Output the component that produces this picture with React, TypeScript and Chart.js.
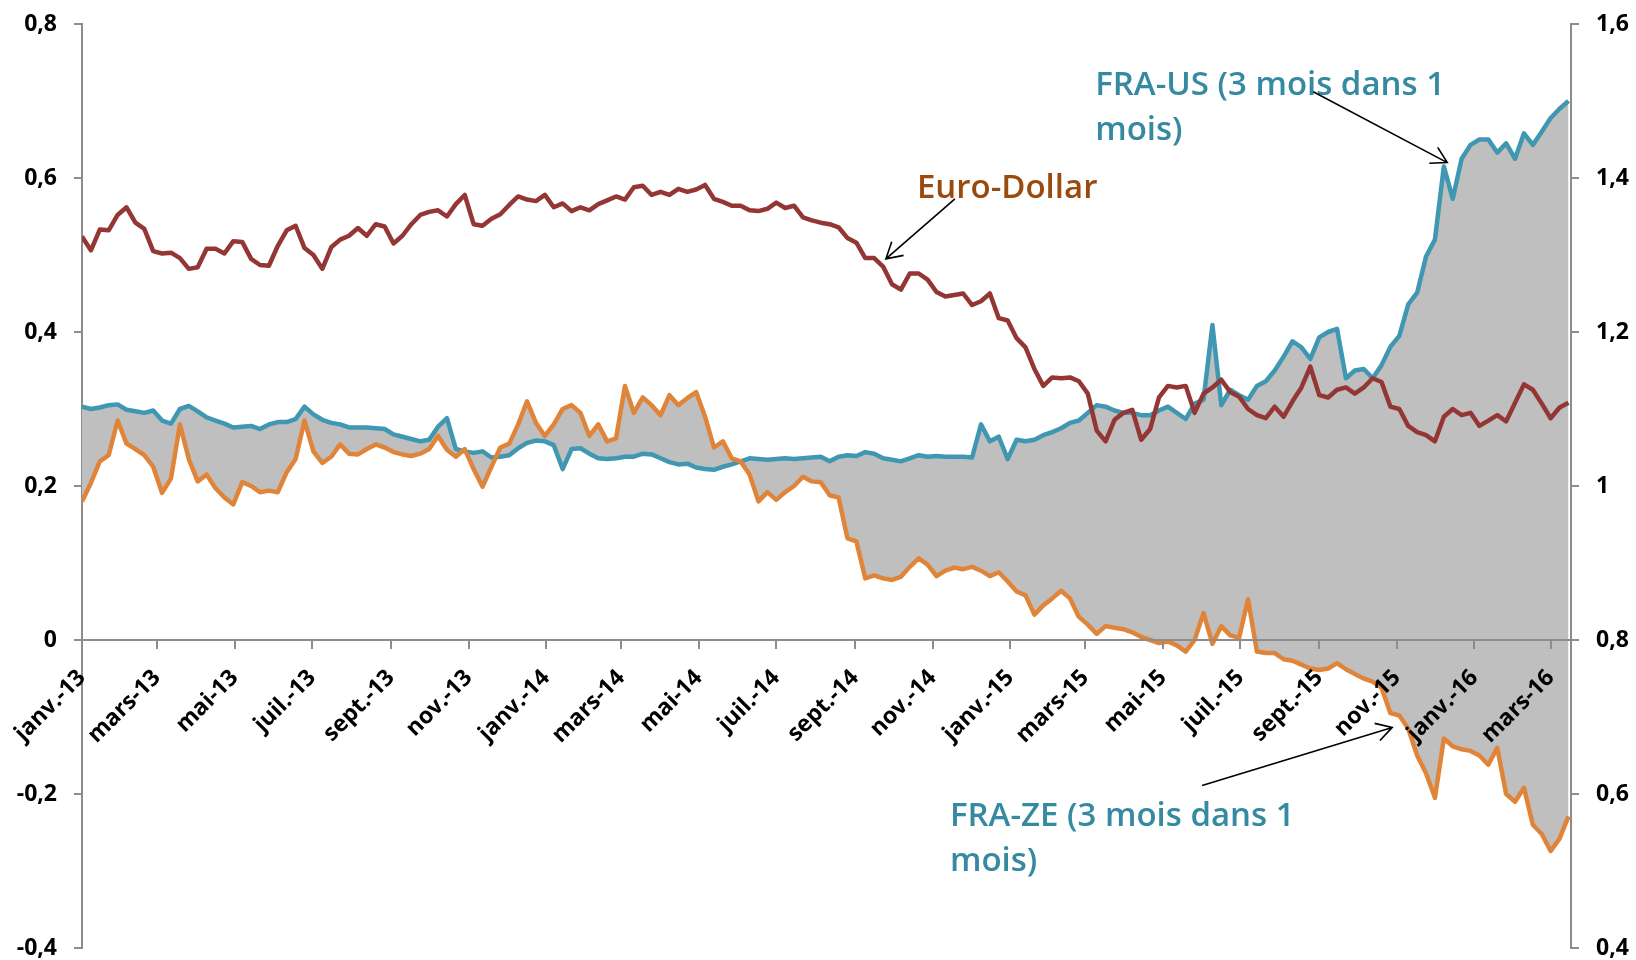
import React, { useEffect, useRef } from 'react';
import { Chart, registerables } from 'chart.js';

Chart.register(...registerables);

// Weekly observations starting 1 Jan 2013 (x = week index * 7 days)
const WEEK_DAYS = 7;

const FRA_US = [
  0.303, 0.300, 0.302, 0.305, 0.306, 0.299, 0.297, 0.295, 0.298, 0.285,
  0.281, 0.300, 0.304, 0.297, 0.289, 0.285, 0.281, 0.276, 0.277, 0.278,
  0.274, 0.280, 0.283, 0.283, 0.287, 0.303, 0.293, 0.286, 0.282, 0.280,
  0.276, 0.276, 0.276, 0.275, 0.274, 0.267, 0.264, 0.261, 0.258, 0.260,
  0.277, 0.288, 0.248, 0.245, 0.243, 0.245, 0.237, 0.238, 0.240, 0.249,
  0.256, 0.259, 0.258, 0.253, 0.222, 0.248, 0.249, 0.242, 0.236, 0.235,
  0.236, 0.238, 0.238, 0.242, 0.241, 0.236, 0.231, 0.228, 0.229, 0.224,
  0.222, 0.221, 0.225, 0.228, 0.232, 0.236, 0.235, 0.234, 0.235, 0.236,
  0.235, 0.236, 0.237, 0.238, 0.232, 0.238, 0.240, 0.239, 0.244, 0.242,
  0.236, 0.234, 0.232, 0.236, 0.240, 0.238, 0.239, 0.238, 0.238, 0.238,
  0.237, 0.280, 0.258, 0.264, 0.235, 0.260, 0.258, 0.260, 0.266, 0.270,
  0.275, 0.282, 0.285, 0.295, 0.305, 0.303, 0.298, 0.295, 0.295, 0.292,
  0.292, 0.298, 0.303, 0.295, 0.287, 0.307, 0.312, 0.409, 0.305, 0.325,
  0.318, 0.312, 0.330, 0.336, 0.350, 0.368, 0.388, 0.380, 0.365, 0.393,
  0.400, 0.404, 0.340, 0.350, 0.352, 0.340, 0.357, 0.381, 0.395, 0.436,
  0.451, 0.498, 0.520, 0.615, 0.573, 0.625, 0.643, 0.650, 0.650, 0.633,
  0.645, 0.625, 0.658, 0.643, 0.660, 0.678, 0.690, 0.700,
];

const FRA_ZE = [
  0.180, 0.204, 0.232, 0.240, 0.285, 0.255, 0.248, 0.240, 0.225, 0.191,
  0.210, 0.280, 0.235, 0.206, 0.215, 0.197, 0.185, 0.176, 0.205, 0.200,
  0.192, 0.194, 0.192, 0.218, 0.235, 0.285, 0.245, 0.230, 0.238, 0.254,
  0.242, 0.241, 0.248, 0.254, 0.250, 0.244, 0.241, 0.239, 0.242, 0.248,
  0.265, 0.247, 0.238, 0.248, 0.222, 0.199, 0.225, 0.250, 0.255, 0.280,
  0.310, 0.282, 0.265, 0.280, 0.300, 0.305, 0.295, 0.265, 0.280, 0.258,
  0.262, 0.330, 0.295, 0.315, 0.305, 0.292, 0.318, 0.305, 0.314, 0.322,
  0.290, 0.250, 0.258, 0.236, 0.232, 0.215, 0.180, 0.192, 0.182, 0.192,
  0.200, 0.212, 0.206, 0.205, 0.188, 0.185, 0.132, 0.128, 0.080, 0.084,
  0.080, 0.078, 0.082, 0.095, 0.106, 0.098, 0.083, 0.090, 0.094, 0.092,
  0.095, 0.090, 0.083, 0.088, 0.076, 0.063, 0.058, 0.033, 0.045, 0.054,
  0.064, 0.054, 0.030, 0.020, 0.008, 0.018, 0.016, 0.014, 0.010, 0.004,
  0.000, -0.004, -0.002, -0.007, -0.015, 0.000, 0.035, -0.005, 0.018, 0.006,
  0.003, 0.053, -0.015, -0.017, -0.017, -0.025, -0.027, -0.032, -0.037, -0.039,
  -0.037, -0.030, -0.038, -0.044, -0.050, -0.054, -0.062, -0.095, -0.098, -0.115,
  -0.150, -0.173, -0.205, -0.128, -0.138, -0.142, -0.144, -0.150, -0.162, -0.140,
  -0.200, -0.210, -0.192, -0.240, -0.252, -0.274, -0.258, -0.229,
];

const EURO_DOLLAR = [
  1.324, 1.306, 1.333, 1.332, 1.352, 1.362, 1.342, 1.334, 1.305, 1.302,
  1.303, 1.296, 1.282, 1.284, 1.308, 1.308, 1.302, 1.318, 1.317, 1.295,
  1.287, 1.286, 1.312, 1.332, 1.338, 1.309, 1.300, 1.282, 1.310, 1.320,
  1.325, 1.335, 1.325, 1.340, 1.337, 1.315, 1.325, 1.340, 1.352, 1.356,
  1.358, 1.350, 1.366, 1.378, 1.340, 1.338, 1.347, 1.353, 1.365, 1.376,
  1.372, 1.370, 1.378, 1.362, 1.367, 1.357, 1.362, 1.358, 1.366, 1.371,
  1.376, 1.372, 1.388, 1.390, 1.378, 1.382, 1.378, 1.386, 1.382, 1.385,
  1.391, 1.373, 1.369, 1.364, 1.364, 1.358, 1.357, 1.360, 1.368, 1.361,
  1.364, 1.349, 1.345, 1.342, 1.340, 1.336, 1.322, 1.316, 1.296, 1.296,
  1.285, 1.262, 1.255, 1.276, 1.276, 1.268, 1.252, 1.246, 1.248, 1.250,
  1.235, 1.240, 1.250, 1.218, 1.215, 1.192, 1.180, 1.152, 1.130, 1.141,
  1.140, 1.141, 1.136, 1.120, 1.072, 1.058, 1.086, 1.095, 1.099, 1.060,
  1.074, 1.115, 1.130, 1.128, 1.130, 1.095, 1.120, 1.128, 1.138, 1.122,
  1.116, 1.100, 1.092, 1.088, 1.103, 1.090, 1.110, 1.128, 1.155, 1.118,
  1.115, 1.125, 1.128, 1.120, 1.128, 1.140, 1.135, 1.103, 1.100, 1.078,
  1.070, 1.066, 1.058, 1.090, 1.100, 1.092, 1.095, 1.078, 1.085, 1.092,
  1.084, 1.108, 1.132, 1.125, 1.107, 1.088, 1.102, 1.108,
];

// x-axis ticks: first day of every other month
const TICK_MONTHS: [number, number][] = [
  [2013, 0], [2013, 2], [2013, 4], [2013, 6], [2013, 8], [2013, 10],
  [2014, 0], [2014, 2], [2014, 4], [2014, 6], [2014, 8], [2014, 10],
  [2015, 0], [2015, 2], [2015, 4], [2015, 6], [2015, 8], [2015, 10],
  [2016, 0], [2016, 2],
];
const TICK_LABELS = [
  'janv.-13', 'mars-13', 'mai-13', 'juil.-13', 'sept.-13', 'nov.-13',
  'janv.-14', 'mars-14', 'mai-14', 'juil.-14', 'sept.-14', 'nov.-14',
  'janv.-15', 'mars-15', 'mai-15', 'juil.-15', 'sept.-15', 'nov.-15',
  'janv.-16', 'mars-16',
];
const X_MAX_DAY = 1171;

const dayOf = (y: number, m: number) => (Date.UTC(y, m, 1) - Date.UTC(2013, 0, 1)) / 86400000;
const TICK_DAYS = TICK_MONTHS.map(([y, m]) => dayOf(y, m));

const TEAL = '#3F97B1';
const ORANGE = '#E0843A';
const DARK_RED = '#943634';
const FILL_GRAY = '#BFBFBF';
const AXIS_COLOR = '#8C8C8C';
const FONT_FAMILY = "'Open Sans', 'DejaVu Sans', sans-serif";

type Annotation = {
  lines: string[];
  color: string;
  textX: number; // day
  textY: number; // left-axis value (baseline of first line)
  from: [number, number];
  to: [number, number];
};

const ANNOTATIONS: Annotation[] = [
  { lines: ['Euro-Dollar'], color: '#9A4A0C', textX: 656.6, textY: 0.574, from: [686.5, 0.573], to: [632.2, 0.495] },
  { lines: ['FRA-US (3 mois dans 1', 'mois)'], color: '#3589A1', textX: 796.8, textY: 0.708, from: [968.3, 0.712], to: [1073.7, 0.62] },
  { lines: ['FRA-ZE (3 mois dans 1', 'mois)'], color: '#3589A1', textX: 682.6, textY: -0.242, from: [880.9, -0.189], to: [1030.4, -0.1135] },
];

const fmt = (v: number) => {
  const r = Math.round(v * 10) / 10;
  return String(r).replace('.', ',');
};

const annotationPlugin = {
  id: 'annotations',
  afterDraw(chart: any) {
    const { ctx } = chart;
    const xs = chart.scales.x;
    const ys = chart.scales.y;
    ctx.save();
    for (const a of ANNOTATIONS) {
      ctx.font = `600 33px ${FONT_FAMILY}`;
      ctx.fillStyle = a.color;
      ctx.textAlign = 'left';
      ctx.textBaseline = 'alphabetic';
      const tx = xs.getPixelForValue(a.textX);
      const ty = ys.getPixelForValue(a.textY);
      a.lines.forEach((l, i) => ctx.fillText(l, tx, ty + i * 45));

      const x1 = xs.getPixelForValue(a.from[0]);
      const y1 = ys.getPixelForValue(a.from[1]);
      const x2 = xs.getPixelForValue(a.to[0]);
      const y2 = ys.getPixelForValue(a.to[1]);
      ctx.strokeStyle = '#000';
      ctx.lineWidth = 1.6;
      ctx.beginPath();
      ctx.moveTo(x1, y1);
      ctx.lineTo(x2, y2);
      const ang = Math.atan2(y1 - y2, x1 - x2);
      const len = 18;
      const spread = (30 * Math.PI) / 180;
      ctx.moveTo(x2 + len * Math.cos(ang + spread), y2 + len * Math.sin(ang + spread));
      ctx.lineTo(x2, y2);
      ctx.lineTo(x2 + len * Math.cos(ang - spread), y2 + len * Math.sin(ang - spread));
      ctx.stroke();
    }
    ctx.restore();
  },
};

export default function App() {
  const ref = useRef<HTMLCanvasElement | null>(null);

  useEffect(() => {
    if (!ref.current) return;
    const toPts = (arr: number[]) => arr.map((v, i) => ({ x: i * WEEK_DAYS, y: v }));
    const tickFont = { family: FONT_FAMILY, size: 23, weight: 'bold' as const, lineHeight: 1 };
    const fixY = (w: number) => (scale: any) => {
      scale.width = w;
      scale.paddingTop = 0;
      scale.paddingBottom = 0;
    };

    const chart = new Chart(ref.current, {
      type: 'line',
      data: {
        datasets: [
          {
            label: 'FRA-US (3 mois dans 1 mois)',
            data: toPts(FRA_US),
            borderColor: TEAL,
            backgroundColor: FILL_GRAY,
            borderWidth: 4.5,
            pointRadius: 0,
            fill: '+1',
            yAxisID: 'y',
            order: 3,
            borderJoinStyle: 'round',
          },
          {
            label: 'FRA-ZE (3 mois dans 1 mois)',
            data: toPts(FRA_ZE),
            borderColor: ORANGE,
            backgroundColor: ORANGE,
            borderWidth: 4.5,
            pointRadius: 0,
            fill: false,
            yAxisID: 'y',
            order: 2,
            borderJoinStyle: 'round',
          },
          {
            label: 'Euro-Dollar',
            data: toPts(EURO_DOLLAR),
            borderColor: DARK_RED,
            backgroundColor: DARK_RED,
            borderWidth: 4.5,
            pointRadius: 0,
            fill: false,
            yAxisID: 'y1',
            order: 1,
            borderJoinStyle: 'round',
          },
        ],
      },
      options: {
        animation: false,
        responsive: false,
        devicePixelRatio: 1,
        layout: { padding: { top: 24, bottom: 12, left: 0, right: 0 } },
        plugins: {
          legend: { display: false },
          tooltip: { enabled: false },
        },
        scales: {
          x: {
            type: 'linear',
            axis: 'x',
            position: { y: 0 },
            min: 0,
            max: X_MAX_DAY,
            afterBuildTicks: (scale: any) => {
              scale.ticks = TICK_DAYS.map((v) => ({ value: v }));
            },
            ticks: {
              z: 1,
              autoSkip: false,
              minRotation: 45,
              maxRotation: 45,
              padding: 18,
              color: '#000',
              font: tickFont,
              callback: (_v: any, i: number) => TICK_LABELS[i],
            },
            grid: { z: 1, drawOnChartArea: false, drawTicks: true, tickLength: 8, color: AXIS_COLOR, lineWidth: 2 },
            border: { z: 1, display: true, color: AXIS_COLOR, width: 2 },
          },
          y: {
            type: 'linear',
            position: 'left',
            min: -0.4,
            max: 0.8,
            afterFit: fixY(82),
            ticks: { stepSize: 0.2, padding: 17, color: '#000', font: tickFont, callback: (v: any) => fmt(Number(v)) },
            grid: { drawOnChartArea: false, drawTicks: true, tickLength: 8, color: AXIS_COLOR, lineWidth: 2 },
            border: { display: true, color: AXIS_COLOR, width: 2 },
          },
          y1: {
            type: 'linear',
            position: 'right',
            min: 0.4,
            max: 1.6,
            afterFit: fixY(65),
            ticks: { stepSize: 0.2, padding: 17, color: '#000', font: tickFont, callback: (v: any) => fmt(Number(v)) },
            grid: { drawOnChartArea: false, drawTicks: true, tickLength: 8, color: AXIS_COLOR, lineWidth: 2 },
            border: { display: true, color: AXIS_COLOR, width: 2 },
          },
        },
      },
      plugins: [annotationPlugin],
    } as any);

    return () => chart.destroy();
  }, []);

  return (
    <div style={{ position: 'absolute', left: 0, top: 0, width: 1636, height: 960, background: '#fff' }}>
      <canvas ref={ref} width={1636} height={960} style={{ display: 'block', width: 1636, height: 960 }} />
    </div>
  );
}
